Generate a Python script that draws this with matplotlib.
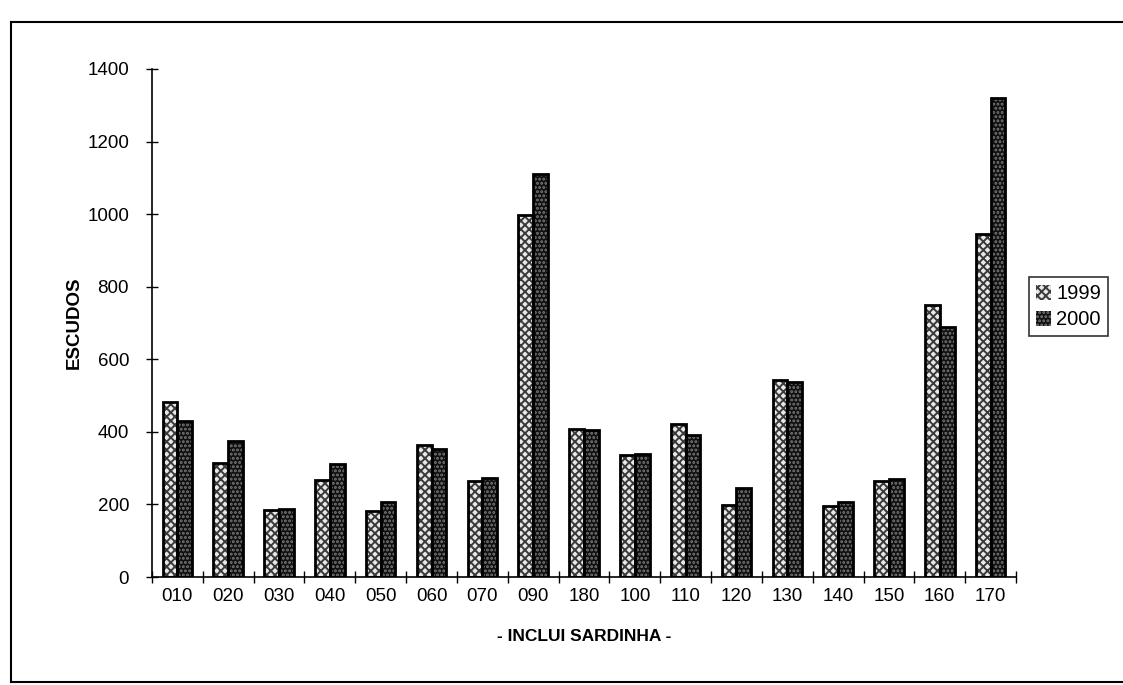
import matplotlib.pyplot as plt
import numpy as np
from matplotlib.lines import Line2D

plt.rcParams["font.family"] = ["Liberation Sans", "DejaVu Sans"]
plt.rcParams["hatch.linewidth"] = 1.4

CATEGORIES = ["010", "020", "030", "040", "050", "060", "070", "090", "180",
              "100", "110", "120", "130", "140", "150", "160", "170"]
VALUES_1999 = [482, 314, 185, 268, 183, 365, 265, 998, 408, 335, 423, 198, 543, 195, 265, 750, 945]
VALUES_2000 = [430, 375, 188, 312, 208, 352, 273, 1110, 405, 340, 390, 245, 538, 208, 270, 690, 1320]
YTICKS = [0, 200, 400, 600, 800, 1000, 1200, 1400]

fig = plt.figure(figsize=(11.23, 6.85), dpi=100)
ax = fig.add_axes([152 / 1123, 1 - 577 / 685, (1016 - 152) / 1123, (577 - 69) / 685])

x = np.arange(len(CATEGORIES))
w = 0.29
b1 = ax.bar(x - w / 2, VALUES_1999, w, facecolor="#e8e8e8", edgecolor="#3a3a3a",
            hatch="xxxx", linewidth=0, label="1999", zorder=2)
b2 = ax.bar(x + w / 2, VALUES_2000, w, facecolor="#101010", edgecolor="#7a7a7a",
            hatch="....", linewidth=0, label="2000", zorder=2)
ax.bar(x - w / 2, VALUES_1999, w, fill=False, edgecolor="black", linewidth=2, zorder=3)
ax.bar(x + w / 2, VALUES_2000, w, fill=False, edgecolor="black", linewidth=2, zorder=3)

ax.set_xlim(-0.5, len(CATEGORIES) - 0.5)
ax.set_ylim(0, 1400)
ax.set_yticks(YTICKS)
ax.set_xticks(x)
ax.set_xticklabels(CATEGORIES)
ax.set_xticks(np.arange(-0.5, len(CATEGORIES)), minor=True)
ax.tick_params(axis="x", which="major", length=0, pad=8, labelsize=13.5)
ax.tick_params(axis="x", which="minor", direction="inout", length=9, width=1)
ax.tick_params(axis="y", direction="inout", length=9, width=1, pad=12, labelsize=13.5)

for s in ["top", "right"]:
    ax.spines[s].set_visible(False)
for s in ["left", "bottom"]:
    ax.spines[s].set_linewidth(1.2)

ax.set_ylabel("ESCUDOS", fontweight="bold", fontsize=13.5, labelpad=3)
ax.set_xlabel("- INCLUI SARDINHA -", fontweight="bold", fontsize=12.5, labelpad=17)

leg = ax.legend(handles=[b1, b2], loc="upper left", bbox_to_anchor=(1.015, 0.59),
                frameon=True, fancybox=False, edgecolor="black", fontsize=14.5,
                handlelength=0.75, handleheight=0.75, handletextpad=0.25,
                borderpad=0.35, labelspacing=0.35, borderaxespad=0)
leg.get_frame().set_linewidth(1.2)

# outer frame
fig.add_artist(Line2D([11 / 1123, 1.0], [1 - 22 / 685, 1 - 22 / 685], color="black", lw=1.5))
fig.add_artist(Line2D([11 / 1123, 11 / 1123], [1 - 22 / 685, 1 - 682 / 685], color="black", lw=1.5))
fig.add_artist(Line2D([11 / 1123, 1.0], [1 - 682 / 685, 1 - 682 / 685], color="black", lw=1.5))

fig.savefig("out.png", dpi=100)
